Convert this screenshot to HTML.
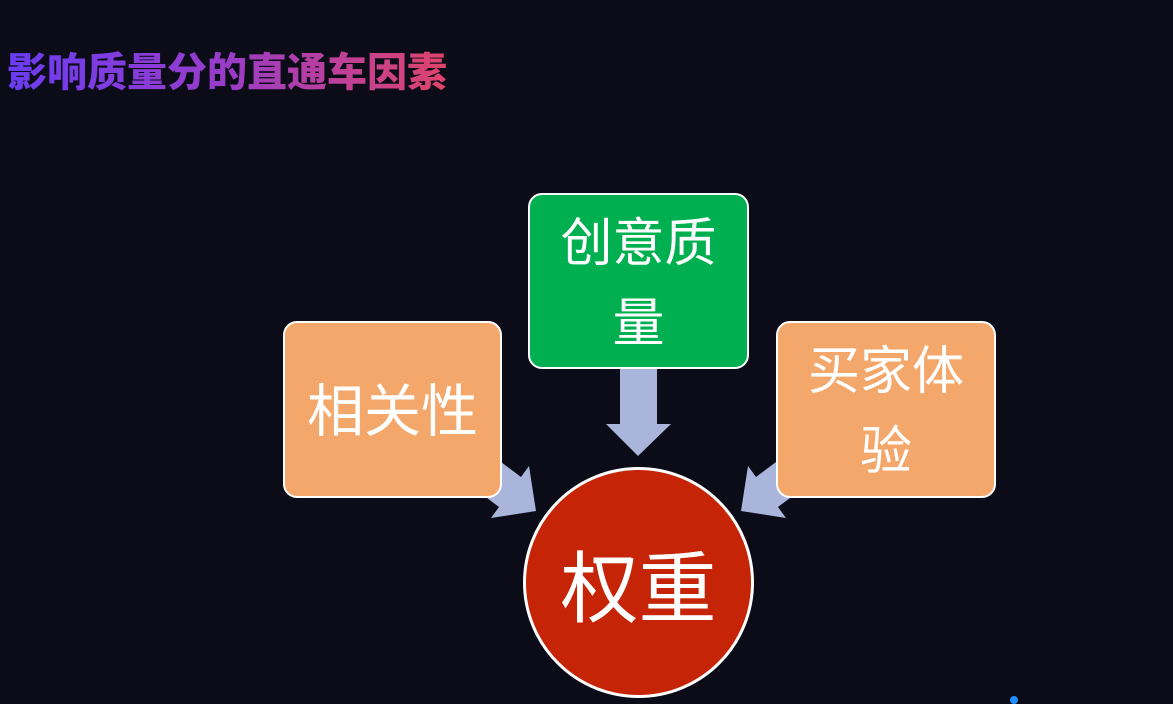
<!DOCTYPE html>
<html><head><meta charset="utf-8"><style>
html,body{margin:0;padding:0}
body{width:1173px;height:704px;background:#0b0c18;position:relative;overflow:hidden;font-family:"Liberation Sans","Noto Sans CJK SC",sans-serif}
.title{position:absolute;left:7px;top:48px;font-size:40px;font-weight:900;line-height:50px;background:linear-gradient(90deg,#6a3cf2 0%,#9a3cc8 50%,#e0446a 100%);-webkit-background-clip:text;background-clip:text;color:transparent}
.box{position:absolute;box-sizing:border-box;border:2.5px solid #fff;border-radius:14px;color:#fff;display:flex;align-items:center;justify-content:center;text-align:center;font-size:52px;line-height:80px}
.circle{position:absolute;left:523px;top:467px;width:231px;height:231px;box-sizing:border-box;border:3px solid #fff;border-radius:50%;background:#c52506;color:#fff;font-size:78px;display:flex;align-items:center;justify-content:center}
</style></head><body>
<div class="title">影响质量分的直通车因素</div>
<svg width="1173" height="704" style="position:absolute;left:0;top:0">
<polygon points="620,368 657,368 657,424 671,424 638,456 606,424 620,424" fill="#a9b5db"/>
<polygon points="473,441 521,477 529,466 536,511 491,518 499,507 451,471" fill="#a9b5db"/>
<polygon points="804,441 756,477 748,466 741,511 786,518 778,507 826,471" fill="#a9b5db"/>
<circle cx="1014" cy="700" r="4" fill="#1e90ff"/>
</svg>
<div class="box" style="left:528px;top:193px;width:221px;height:176px;background:#00b050;padding:6px 20px 0">创意质量</div>
<div class="box" style="left:283px;top:321px;width:219px;height:177px;background:#f4a76a;font-size:57px;padding-top:4px">相关性</div>
<div class="box" style="left:776px;top:321px;width:220px;height:177px;background:#f4a76a;padding:4px 22px 0">买家体验</div>
<div class="circle">权重</div>
</body></html>
